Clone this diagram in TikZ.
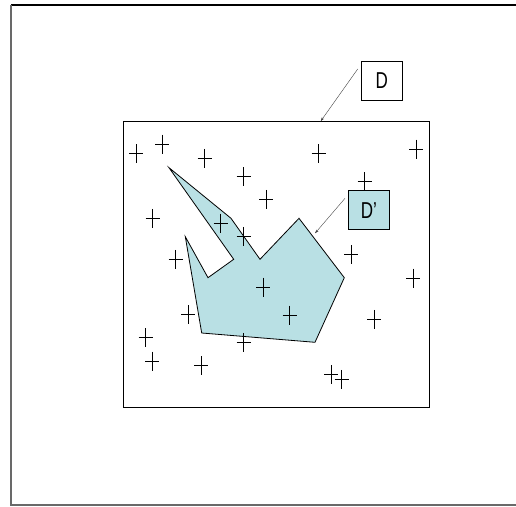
\documentclass[tikz,border=0pt]{standalone}
\usepackage{fontspec}
\newfontfamily\labelfont[FakeStretch=0.74]{Liberation Sans}
\usetikzlibrary{arrows.meta}
\definecolor{regionfill}{RGB}{185,224,228}
\definecolor{framegrey}{RGB}{105,105,105}

\tikzset{
  crossmark/.style={line width=0.8pt},
  labelbox/.style={draw, line width=0.8pt, inner sep=0pt,
    minimum width=41pt, minimum height=39pt,
    font=\labelfont\fontsize{23}{23}\selectfont},
  pointer/.style={-{Stealth[length=4pt,width=2.5pt]}, line width=0.4pt, draw=black!75},
}

\begin{document}
\begin{tikzpicture}[x=1pt,y=-1pt]
\useasboundingbox (0,0) rectangle (516,506);

% page frame
\draw[line width=1.2pt] (11,5) -- (516,5);
\draw[framegrey, line width=1.5pt] (11,5) -- (11,505) -- (516,505);

% domain D
\node[draw, line width=1pt, inner sep=0pt, minimum width=306pt, minimum height=285.6pt] (dom) at (276.3,264.5) {};

% sub-domain D'
\filldraw[fill=regionfill, line width=0.8pt]
  (169,167.7) -- (231,218.3) -- (260,259.3) -- (299,218.3) -- (344.3,277.7)
  -- (315,342.3) -- (201.7,333) -- (185.3,236.7) -- (208,277.7) -- (233.7,259.3) -- cycle;

% sample points
\foreach \x/\y in {136/153.7, 162.3/144, 204.7/158.3, 318.7/153.7, 416/149,
                   243.7/176.7, 364.7/181.7, 266.3/199.3, 152.7/218.3, 220.7/223,
                   243.7/236.3, 175.7/259.3, 351/254.7, 413.3/278, 263.3/287,
                   289.7/315, 188.3/314.7, 374/319.3, 145.7/337.7, 243.7/342.3,
                   152.3/361, 201.3/365.7, 331/374.7, 341.7/379.3}
  \draw[crossmark] (\x-7,\y) -- (\x+7,\y) (\x,\y-9.5) -- (\x,\y+9.5);

% labels
\node[labelbox] (dlabel) at (381.7,80.8) {D};
\node[labelbox, fill=regionfill] (dsublabel) at (368.8,210.2) {D’};

\coordinate (dfrom) at (357.7,69);
\coordinate (dto) at (320.7,121.2);
\coordinate (dsubfrom) at (345,198.3);
\coordinate (dsubto) at (315,233.3);
\draw[pointer] (dfrom) -- (dto);
\draw[pointer] (dsubfrom) -- (dsubto);

\end{tikzpicture}
\end{document}
